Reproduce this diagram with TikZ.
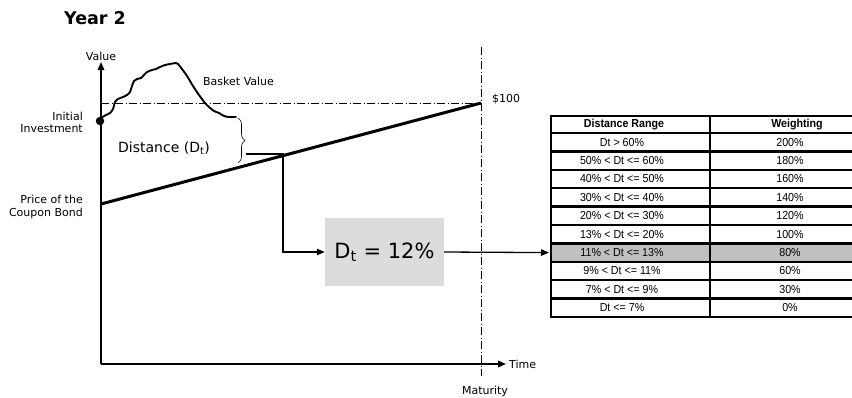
\documentclass[tikz,border=0pt]{standalone}
\usepackage{fontspec}
\setmainfont{DejaVu Sans}
\newfontfamily\arialf[FakeStretch=0.92]{Liberation Sans}
\usetikzlibrary{arrows.meta,decorations.pathreplacing}
\definecolor{boxgray}{HTML}{DCDCDC}
\definecolor{rowgray}{HTML}{C0C0C0}
\begin{document}
\begin{tikzpicture}[x=1pt,y=-1pt,
  lbl/.style={font=\fontsize{11}{12.5}\selectfont, inner sep=0pt},
  axisline/.style={line width=1.6pt},
  arr/.style={-{Triangle[length=8pt,width=6.5pt]}},
  dashdot/.style={line width=0.8pt, dash pattern=on 8pt off 2.5pt on 1pt off 2.5pt},
  tline/.style={line width=2.4pt},
  tcell/.style={inner sep=0pt, font=\arialf\fontsize{11.6}{12}\selectfont},
  thead/.style={inner sep=0pt, font=\arialf\bfseries\fontsize{11.6}{12}\selectfont}]
\useasboundingbox (0,0) rectangle (852,397);

% title
\node[anchor=west, inner sep=0pt, font=\bfseries\fontsize{17.5}{19}\selectfont] (title) at (64,18) {Year 2};

% axes
\coordinate (O) at (101,364);
\coordinate (ytop) at (101,62);
\coordinate (xend) at (506,364);
\draw[axisline, arr] (O) -- (ytop);
\draw[axisline, arr] (O) -- (xend);
\node[lbl] (value) at (101,56) {Value};
\node[lbl, anchor=west] (time) at (509,364) {Time};
\node[lbl] (maturity) at (485,391) {Maturity};

% dash-dot reference lines
\coordinate (mtop) at (481,47);
\coordinate (mbot) at (481,376);
\coordinate (h0) at (101,103);
\coordinate (h1) at (481,103);
\draw[dashdot] (mtop) -- (mbot);
\draw[dashdot] (h0) -- (h1);
\node[lbl, anchor=west] (hundred) at (492,99) {\$100};

% left labels
\node[lbl, anchor=east, align=right, font=\fontsize{11}{11.8}\selectfont] (initinv) at (83,122.5) {Initial\\Investment};
\node[lbl, anchor=east, align=right, font=\fontsize{11}{13}\selectfont] (pricebond) at (83,206.5) {Price of the\\Coupon Bond};

% coupon bond line
\coordinate (bond0) at (101,204);
\coordinate (bond1) at (481,103);
\draw[line width=3pt] (bond0) -- (bond1);

% basket value curve
\node[circle, fill=black, inner sep=0pt, minimum size=8.5pt] (dot) at (100,121) {};
\draw[line width=1.9pt, line join=round, line cap=round] plot[smooth, tension=0.45] coordinates {
(101,118) (106,115) (110,113) (113,109) (115,102) (118,99) (123,97) (127,95) (130,92)
(132,86) (134,81) (137,79) (141,78) (144,75) (147,72) (152,70) (156,69) (160,67)
(165,65) (170,64) (176,63) (178,64) (182,69) (187,76) (193,86) (199,95) (205,103)
(209,107) (214,111) (219,113) (224,116) (229,117) (236,117)};
\node[lbl, anchor=west] (basket) at (203,81) {Basket Value};

% distance brace
\draw[line width=0.6pt, decorate, decoration={brace, amplitude=7pt}] (238,118) -- (238,163);
\node[anchor=west, inner sep=0pt, font=\fontsize{14}{16}\selectfont] (dist) at (118,148) {Distance (D\textsubscript{t})};

% D_t box
\node[fill=boxgray, minimum width=119pt, minimum height=68pt, inner sep=0pt,
      font=\fontsize{21}{24}\selectfont] (dtbox) at (384.5,252) {D\textsubscript{t} = 12\%};

\coordinate (brc) at (246,154);
\coordinate (bend) at (283,154);
\draw[line width=1.3pt, arr] (brc) -- (bend) |- (dtbox.west);

% table
\fill[rowgray] (551,243.4) rectangle (852,261.8);
\foreach \y in {116,133,151.4,169.8,188.2,206.6,225,243.4,261.8,280.2,298.6,317}
  \draw[tline] (549.8,\y) -- (852,\y);
\draw[tline] (551,116) -- (551,317);
\draw[tline] (710,116) -- (710,317);
\node[thead] (ha) at (624,124.5) {Distance Range};
\node[thead] (hb) at (797,124.5) {Weighting};
\foreach \i/\a/\b in {1/Dt > 60\%/200\%, 2/50\% < Dt <= 60\%/180\%, 3/40\% < Dt <= 50\%/160\%,
  4/30\% < Dt <= 40\%/140\%, 5/20\% < Dt <= 30\%/120\%, 6/13\% < Dt <= 20\%/100\%,
  7/11\% < Dt <= 13\%/80\%, 8/9\% < Dt <= 11\%/60\%, 9/7\% < Dt <= 9\%/30\%, 10/Dt <= 7\%/0\%} {
  \pgfmathsetmacro\yc{133+(\i-0.5)*18.4}
  \node[tcell] (ra\i) at (622,\yc) {\a};
  \node[tcell] (rb\i) at (790,\yc) {\b};
}
\coordinate (tin) at (549,252.6);
\draw[line width=1.3pt, arr] (dtbox.east) -- (tin);
\end{tikzpicture}
\end{document}
